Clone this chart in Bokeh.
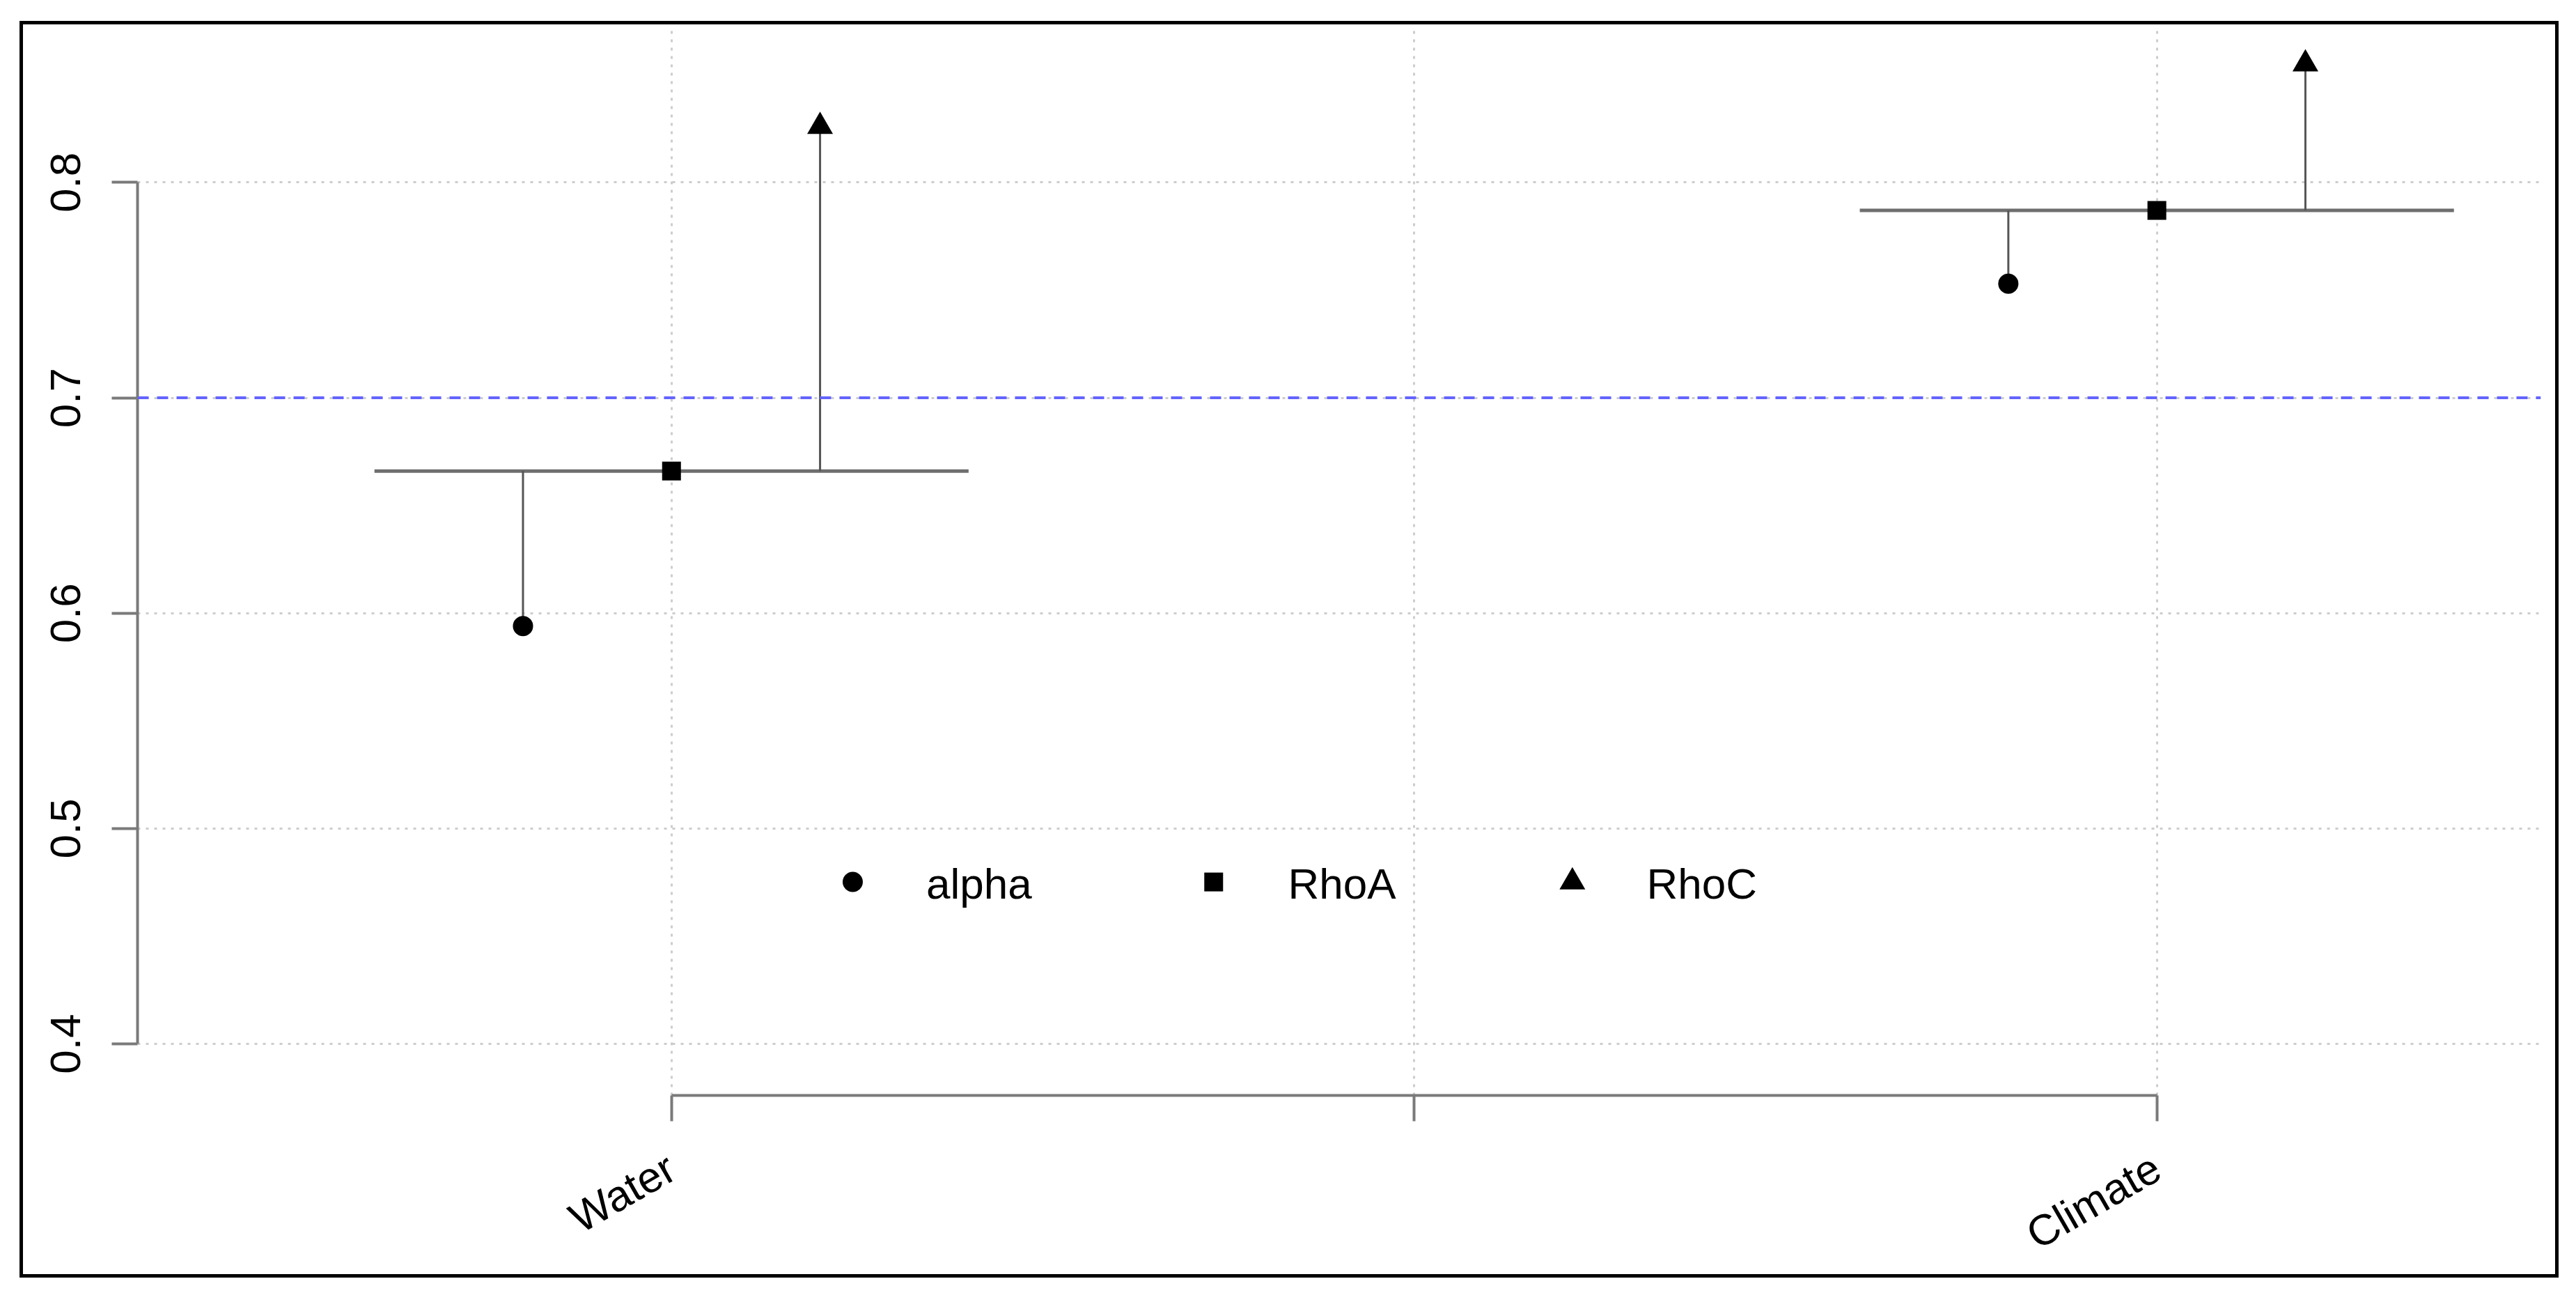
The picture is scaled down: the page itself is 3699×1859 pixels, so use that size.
import math
from bokeh.plotting import figure
from bokeh.models import FixedTicker, Span, Range1d
from bokeh.core.properties import value
from bokeh.embed import file_html
from bokeh.resources import INLINE

# ---- data ----
categories = ["Water", "Climate"]
cat_x = [1, 3]
alpha_vals = [0.594, 0.753]
rhoa_vals = [0.666, 0.787]
rhoc_vals = [0.826, 0.855]
threshold = 0.7
y_ticks = [0.4, 0.5, 0.6, 0.7, 0.8]
x_ticks = [1, 2, 3]
x_tick_labels = ["Water", "", "Climate"]
legend_labels = ["alpha", "RhoA", "RhoC"]

# ---- layout constants ----
OFF = 0.2       # horizontal offset of alpha / RhoC stems
HALF = 0.4      # half width of the RhoA bar
FONT = "Liberation Sans"
FS = "62px"
AXIS_COL = "#7a7a7a"

p = figure(width=3646, height=1804, output_backend="svg", toolbar_location=None,
           title=None,
           x_range=Range1d(0.281, 3.517), y_range=Range1d(0.3761, 0.8716),
           min_border_left=164, min_border_right=31, min_border_top=5,
           min_border_bottom=253)
p.outline_line_color = None
p.background_fill_color = "white"
p.border_fill_color = "white"
p.styles = {"margin-left": "28px", "margin-top": "30px", "border": "5px solid black"}

# grids
p.xgrid.ticker = FixedTicker(ticks=x_ticks)
p.ygrid.ticker = FixedTicker(ticks=y_ticks)
for g in (p.xgrid[0], p.ygrid[0]):
    g.grid_line_color = "#cdcdcd"
    g.grid_line_dash = "4 8"
    g.grid_line_width = 3

# axes
xa = p.xaxis[0]
xa.ticker = FixedTicker(ticks=x_ticks)
xa.major_label_overrides = {t: lab for t, lab in zip(x_ticks, x_tick_labels)}
xa.bounds = (x_ticks[0], x_ticks[-1])
xa.major_label_orientation = math.radians(30)
xa.major_label_standoff = 62

ya = p.yaxis[0]
ya.ticker = FixedTicker(ticks=y_ticks)
ya.major_label_overrides = {t: f"{t:.1f}" for t in y_ticks}
ya.bounds = (y_ticks[0], y_ticks[-1])
ya.major_label_orientation = "vertical"
ya.major_label_standoff = 45

for ax in (xa, ya):
    ax.axis_line_color = AXIS_COL
    ax.axis_line_width = 4
    ax.major_tick_line_color = AXIS_COL
    ax.major_tick_line_width = 4
    ax.major_tick_out = 37
    ax.major_tick_in = 0
    ax.minor_tick_line_color = None
    ax.major_label_text_font = FONT
    ax.major_label_text_font_size = FS
    ax.major_label_text_color = "black"

# threshold line
p.add_layout(Span(location=threshold, dimension="width", line_color="#6464ff",
                  line_dash="16 12", line_width=4))

# RhoA bars
p.segment(x0=[c - HALF for c in cat_x], y0=rhoa_vals,
          x1=[c + HALF for c in cat_x], y1=rhoa_vals,
          line_color="#6e6e6e", line_width=5)
# stems
p.segment(x0=[c - OFF for c in cat_x], y0=rhoa_vals,
          x1=[c - OFF for c in cat_x], y1=alpha_vals,
          line_color="#555555", line_width=3)
p.segment(x0=[c + OFF for c in cat_x], y0=rhoa_vals,
          x1=[c + OFF for c in cat_x], y1=rhoc_vals,
          line_color="#555555", line_width=3)

# markers
p.scatter(x=[c - OFF for c in cat_x], y=alpha_vals, marker="circle", size=29,
          fill_color="black", line_color=None)
p.scatter(x=cat_x, y=rhoa_vals, marker="square", size=27,
          fill_color="black", line_color=None)
p.scatter(x=[c + OFF for c in cat_x], y=rhoc_vals, marker="triangle", size=37,
          fill_color="black", line_color=None)

# legend (drawn inside the plot like R's legend)
leg_marker_x = [1.244, 1.730, 2.213]
leg_text_x = [1.343, 1.830, 2.313]
leg_y = 0.4752
leg_text_y = 0.4743
for mx, mk, sz in zip(leg_marker_x, ["circle", "square", "triangle"], [29, 27, 37]):
    p.scatter(x=[mx], y=[leg_y], marker=mk, size=sz, fill_color="black", line_color=None)
p.text(x=leg_text_x, y=[leg_text_y] * 3, text=legend_labels,
       text_font=value(FONT), text_font_size=value(FS), text_color="black",
       text_align="left", text_baseline="middle")

open("out.html", "w").write(file_html(p, INLINE))
